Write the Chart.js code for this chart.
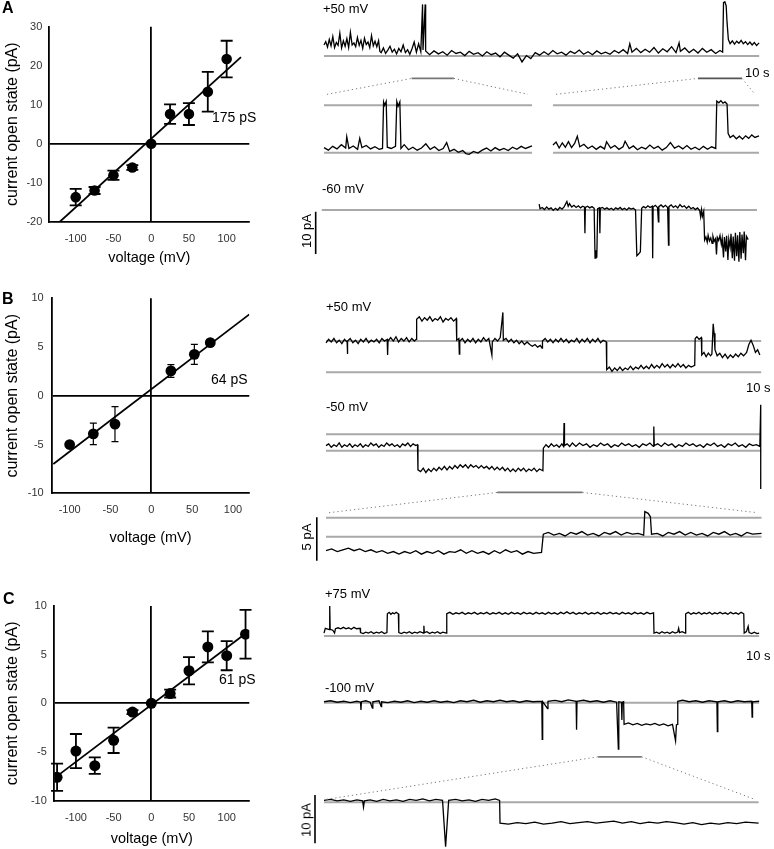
<!DOCTYPE html>
<html><head><meta charset="utf-8">
<script src="https://cdn.jsdelivr.net/npm/chart.js@4.4.1/dist/chart.umd.min.js"></script>
<style>
html,body{margin:0;padding:0;background:#fff;width:774px;height:849px;overflow:hidden;font-family:"Liberation Sans",Arial,sans-serif;}
canvas{position:absolute;}
.lbl{position:absolute;font-size:13px;line-height:13px;color:#000;white-space:nowrap;transform:translateY(-50%);}
.lbl14{position:absolute;font-size:14px;line-height:14px;color:#000;white-space:nowrap;transform:translateY(-50%);}
.rot{position:absolute;font-size:13px;line-height:13px;color:#000;white-space:nowrap;transform:translate(-50%,-50%) rotate(-90deg);}
.letter{position:absolute;font-size:16px;font-weight:bold;line-height:16px;color:#000;}
</style></head><body>
<canvas id="ivA" width="260" height="270" style="left:0;top:0"></canvas>
<canvas id="ivB" width="260" height="270" style="left:0;top:280px"></canvas>
<canvas id="ivC" width="260" height="269" style="left:0;top:580px"></canvas>
<canvas id="traces" width="774" height="849" style="left:0;top:0"></canvas>

<div class="letter" style="left:2px;top:0px">A</div>
<div class="letter" style="left:2px;top:291px">B</div>
<div class="letter" style="left:3px;top:591px">C</div>
<div class="lbl14" style="left:212px;top:117px">175 pS</div>
<div class="lbl14" style="left:211px;top:379px">64 pS</div>
<div class="lbl14" style="left:219px;top:679px">61 pS</div>

<div class="lbl" style="left:323px;top:8px">+50 mV</div>
<div class="lbl" style="left:745px;top:72px">10 s</div>
<div class="lbl" style="left:322px;top:188px">-60 mV</div>
<div class="rot" style="left:306px;top:231px">10 pA</div>
<div class="lbl" style="left:326px;top:306px">+50 mV</div>
<div class="lbl" style="left:746px;top:387px">10 s</div>
<div class="lbl" style="left:326px;top:406px">-50 mV</div>
<div class="rot" style="left:306px;top:537px">5 pA</div>
<div class="lbl" style="left:325px;top:593px">+75 mV</div>
<div class="lbl" style="left:746px;top:655px">10 s</div>
<div class="lbl" style="left:325px;top:687px">-100 mV</div>
<div class="rot" style="left:306px;top:820px">10 pA</div>

<script>
const F = "'Liberation Sans', Arial, sans-serif";

// ---------- I-V data ----------
const ivTicksX = [-100, -50, 0, 50, 100];
const ivA_voltage = [-100, -75, -50, -25, 0, 25, 50, 75, 100];
const ivA_current = [-13.7, -12.0, -8.1, -6.1, 0, 7.6, 7.6, 13.3, 21.7];
const ivA_error   = [2.1, 0.9, 1.2, 0.6, 0, 2.5, 2.8, 5.1, 4.7];
const ivA_fitV = [-121, 119];
const ivA_fitI = [-20, 22.2];
const ivA_ticksY = [-20, -10, 0, 10, 20, 30];

const ivB_voltage = [-100, -71, -44.5, 24, 52.7, 72.2];
const ivB_current = [-5.0, -3.9, -2.9, 2.55, 4.25, 5.45];
const ivB_error   = [0.15, 1.1, 1.8, 0.65, 1.03, 0.2];
const ivB_fitV = [-120, 120];
const ivB_fitI = [-7.0, 8.35];
const ivB_ticksY = [-10, -5, 0, 5, 10];

const ivC_voltage = [-125, -100, -75, -50, -25, 0, 25, 50, 75, 100, 125];
const ivC_current = [-7.6, -4.9, -6.4, -3.8, -0.9, 0, 1.0, 3.35, 5.8, 4.9, 7.1];
const ivC_error   = [1.4, 1.75, 0.85, 1.3, 0.2, 0, 0.4, 1.4, 1.6, 1.5, 2.5];
const ivC_fitV = [-125.5, 122];
const ivC_fitI = [-7.5, 7.0];
const ivC_ticksY = [-10, -5, 0, 5, 10];

// ---------- single-channel traces: [time (s), current (pA)] ----------
const trA_pos50 = [[0,2.6],[0.4,3.4],[0.8,2.1],[1.2,3.9],[1.6,2.4],[2,4.6],[2.4,2.0],[2.8,3.2],[3.2,2.5],[3.6,5.4],[4,1.9],[4.4,3.6],[4.8,2.3],[5.2,4.1],[5.6,2.0],[6,5.6],[6.4,2.6],[6.8,3.1],[7.2,2.2],[7.6,4.4],[8,2.5],[8.4,3.7],[8.8,1.8],[9.2,4.2],[9.6,2.7],[10,3.3],[10.4,2.0],[10.8,4.8],[11.2,2.4],[11.6,3.5],[12,2.2],[12.4,3.6],[12.7,1.1],
 [13,0.8],[13.5,1.9],[14,0.6],[14.5,1.4],[15,2.3],[15.5,0.9],[16,1.6],[16.5,0.5],[17,1.8],[17.5,1.0],[18,2.6],[18.5,0.8],[19,1.5],[19.5,0.4],[20,1.7],[20.5,3.3],[21,0.9],[21.5,2.9],[22,1.0],
 [22.4,12.2],[22.5,1.4],[23.0,12.2],[23.1,1.2],
 [24,0.3],[25,1.2],[26,0.5],[27,1.0],[28,0.2],[29,1.3],[30,0.6],[31,0.9],[32,0.1],[33,1.1],[34,0.4],[35,0.8],[36,0.0],[37,1.0],[38,0.3],[39,0.7],[40,-0.2],[41,0.9],[42,0.2],[43,-0.5],[44,0.5],[45,-1.4],[46,0.1],[47,-0.6],[48,0.8],[49,0.2],[50,1.0],[51,0.3],[52,1.3],[53,0.5],[54,0.9],[55,0.2],[56,1.1],[57,0.6],[58,1.4],[59,0.4],[60,1.0],[61,0.3],[62,1.2],[63,0.5],[64,0.9],[65,0.4],[66,1.3],[67,0.7],[68,1.5],[69,0.6],[69.5,2.9],[70,0.9],[71,1.8],[72,0.8],[73,1.6],[74,0.9],[75,2.0],[76,0.7],[77,1.7],[78,1.0],[79,2.2],[80,0.8],[80.7,3.1],[81,1.1],[82,1.9],[83,0.8],[84,1.6],[85,0.7],[86,1.8],[87,0.9],[88,1.5],[89,0.6],[90,1.3],[90.6,0.9],
 [90.8,12.6],[91.1,12.8],[91.4,11.9],[91.6,8.0],[91.9,3.9],[92.3,2.9],[92.8,3.6],[93.3,2.8],[93.8,3.5],[94.3,3.0],[94.8,3.7],[95.3,2.9],[95.8,3.4],[96.3,2.7],[96.8,3.3],[97.3,2.6],[97.8,3.2],[98.3,2.5],[98.9,3.1]];

const trA_zoomLeft = [[0,1.2],[0.2,0.6],[0.4,1.5],[0.6,0.9],[0.8,1.9],[1.0,1.1],[1.05,3.8],[1.15,1.0],[1.35,1.6],[1.55,0.8],[1.65,3.4],[1.75,1.2],[1.95,1.7],[2.15,0.9],[2.35,1.4],[2.55,0.8],[2.7,1.0],[2.75,12.0],[2.8,11.2],[2.87,12.1],[2.92,1.3],[3.1,1.0],[3.3,1.5],[3.36,12.1],[3.42,11.0],[3.5,12.0],[3.55,1.0],[3.7,1.9],[3.9,0.7],[4.1,1.3],[4.3,0.6],[4.5,1.1],[4.7,2.1],[4.9,0.8],[5.1,1.4],[5.3,0.5],[5.5,1.0],[5.66,2.4],[5.8,0.3],[6.0,0.8],[6.2,0.1],[6.4,0.5],[6.55,-0.2],[6.7,-0.4],[6.9,0.3],[7.1,-0.1],[7.3,0.6],[7.5,1.1],[7.7,0.4],[7.9,1.2],[8.1,0.6],[8.3,1.0],[8.5,0.5],[8.7,1.3],[8.9,0.8],[9.1,1.5],[9.3,1.0],[9.6,1.6]];

const trA_zoomRight = [[0,1.8],[0.15,2.5],[0.3,1.1],[0.45,2.3],[0.6,1.3],[0.75,2.6],[0.9,1.2],[1.05,2.2],[1.18,3.9],[1.3,1.4],[1.5,2.0],[1.7,1.0],[1.9,1.6],[2.1,0.8],[2.3,1.5],[2.5,0.9],[2.6,2.6],[2.8,1.1],[3.0,1.7],[3.2,0.8],[3.4,1.4],[3.5,2.7],[3.7,1.0],[3.9,1.6],[4.1,0.7],[4.3,1.3],[4.5,0.9],[4.7,1.8],[4.9,1.0],[5.1,1.5],[5.3,0.6],[5.5,1.2],[5.7,2.4],[5.9,1.1],[6.1,1.6],[6.3,0.9],[6.5,1.7],[6.7,0.8],[6.9,1.3],[7.1,0.7],[7.3,1.5],[7.5,0.8],[7.7,1.4],[7.9,1.0],
 [7.95,12.2],[8.05,11.8],[8.15,12.3],[8.25,11.7],[8.35,12.0],[8.45,11.5],[8.5,4.6],[8.6,3.6],[8.75,4.1],[8.9,3.3],[9.05,3.9],[9.2,3.2],[9.35,4.0],[9.5,3.4],[9.65,4.2],[9.8,3.6],[10,4.0]];

const trA_neg60 = [[48.9,1.4],[49.1,0.3],[49.6,0.6],[50.1,0.1],[50.6,0.7],[51.1,0.2],[51.6,0.5],[52.1,-0.1],[52.6,0.4],[53.1,0.0],[53.6,0.6],[54.1,0.2],[54.6,0.8],[55.2,2.0],[55.5,0.9],[55.8,1.5],[56.3,0.7],[56.8,1.1],[57.3,0.6],[57.8,1.0],[58.3,0.5],[58.8,0.9],[59.2,0.7],[59.3,-5.5],[59.4,0.6],[59.9,0.9],[60.4,0.5],[60.9,0.8],[61.4,0.4],[61.6,-11.4],[61.8,-9.5],[62.0,-11.3],[62.2,0.3],[62.6,0.5],[62.7,-5.5],[62.8,0.4],[63.3,0.6],[63.8,0.2],[64.3,0.5],[64.8,0.1],[65.3,0.4],[65.8,0.0],[66.3,0.5],[66.8,0.2],[67.3,0.6],[67.8,0.1],[68.3,0.4],[68.8,0.0],[69.3,0.5],[69.8,0.2],[70.3,0.4],[70.8,0.0],[71.1,-10.8],[71.5,-10.4],[71.9,-9.9],[72.2,0.4],[72.6,0.8],[73.1,0.5],[73.6,1.0],[74.1,0.6],[74.6,0.9],[74.7,-11.4],[74.8,0.7],[75.3,1.1],[75.8,0.6],[76.0,-2.8],[76.1,0.8],[76.6,1.2],[77.1,0.7],[77.6,1.1],[78.1,0.6],[78.3,-8.3],[78.4,0.8],[78.9,1.2],[79.4,0.6],[79.9,1.0],[80.4,0.5],[80.9,1.3],[81.4,0.7],[81.9,1.0],[82.4,0.4],[82.9,0.9],[83.4,0.3],[83.9,0.6],[84.4,0.1],[84.9,0.5],[85.4,-0.2],[85.6,-1.6],[85.8,0.1],[86.0,-1.5],[86.3,-0.3],
 [86.5,-7.1],[86.8,-6.4],[87.1,-7.6],[87.3,-6.0],[87.6,-7.3],[87.9,-6.6],[88.2,-7.9],[88.4,-6.2],[88.7,-7.4],[89.0,-6.8],[89.2,-10.5],[89.4,-6.5],[89.7,-7.2],[90.0,-6.0],[90.3,-8.1],[90.5,-6.7],[90.8,-11.2],[91.0,-6.4],[91.3,-9.8],[91.5,-6.1],[91.8,-11.8],[92.0,-6.9],[92.3,-8.8],[92.5,-5.6],[92.8,-11.4],[93.0,-6.3],[93.3,-12.0],[93.5,-5.4],[93.8,-10.9],[94.0,-6.0],[94.3,-12.2],[94.5,-5.2],[94.8,-11.5],[95.0,-5.8],[95.3,-10.2],[95.5,-5.1],[95.8,-11.9],[96.0,-6.2],[96.4,-7.0]];

const trB_pos50 = [[0,3.4],[0.6,3.8],[1.2,3.5],[1.8,3.9],[2.4,3.4],[3.0,3.7],[3.6,3.3],[4.2,3.8],[4.8,3.5],[4.85,2.1],[4.95,3.6],[5.5,3.9],[6.1,3.4],[6.7,3.7],[7.3,3.3],[7.9,3.8],[8.5,3.5],[9.1,3.9],[9.7,3.4],[10.3,3.7],[10.9,3.5],[11.5,3.8],[12.1,3.4],[12.7,3.9],[13.3,3.6],[13.9,3.8],[14.0,2.0],[14.1,3.6],[14.7,4.0],[15.3,3.6],[15.9,4.1],[16.5,3.5],[17.1,3.9],[17.7,3.6],[18.3,4.0],[18.9,3.5],[19.5,3.9],[20.1,3.6],[20.5,3.8],
 [20.6,6.1],[21.2,6.4],[21.8,5.9],[22.4,6.3],[23.0,6.0],[23.6,6.4],[24.2,5.9],[24.8,6.2],[25.4,6.0],[26.0,6.4],[26.6,5.8],[27.2,6.2],[27.8,6.0],[28.4,6.3],[29.0,5.9],[29.6,6.2],
 [29.7,3.7],[30.2,3.9],[30.3,2.1],[30.4,3.6],[31.0,3.9],[31.6,3.4],[32.2,3.8],[32.8,3.5],[33.4,3.9],[34.0,3.4],[34.6,3.8],[35.2,3.5],[35.8,4.0],[36.4,3.6],[37.0,3.9],[37.7,2.0],[37.8,3.5],[38.4,3.9],[39.0,3.6],[39.6,4.0],[40.2,6.9],[40.3,3.7],[40.9,3.9],[41.5,3.5],[42.1,3.8],[42.7,3.4],[43.3,3.7],[43.9,3.3],[44.5,3.6],[45.1,3.2],[45.7,3.5],[46.3,3.2],[46.9,3.0],[47.5,3.2],[48.1,2.9],[48.7,3.1],[49.1,2.8],[49.2,3.6],[49.8,3.9],[50.4,3.5],[51.0,3.8],[51.6,3.4],[52.2,3.8],[52.8,3.5],[53.4,3.9],[54.0,3.5],[54.6,3.8],[55.2,3.4],[55.8,3.7],[56.4,3.5],[57.0,3.9],[57.6,3.4],[58.2,3.8],[58.8,3.5],[59.4,3.9],[60.0,3.4],[60.6,3.8],[61.2,3.5],[61.8,3.9],[62.4,3.4],[63.0,3.7],[63.7,3.5],
 [63.8,0.3],[64.4,0.6],[65.0,0.1],[65.6,0.5],[66.2,0.2],[66.8,0.6],[67.4,0.2],[68.0,0.5],[68.6,0.3],[69.2,0.7],[69.8,0.3],[70.4,0.6],[71.0,0.4],[71.6,0.8],[72.2,0.4],[72.8,0.7],[73.4,0.4],[74.0,0.9],[74.6,0.5],[75.2,0.8],[75.8,0.5],[76.4,1.0],[77.0,0.6],[77.6,0.9],[78.2,0.5],[78.8,0.9],[79.4,0.6],[80.0,1.0],[80.6,0.6],[81.2,0.9],[81.8,0.5],[82.4,0.8],[83.0,0.6],[83.8,0.8],
 [83.9,3.9],[84.3,4.1],[84.8,3.8],[85.3,4.0],[85.4,2.0],[85.9,2.3],[86.4,1.8],[86.9,2.2],[87.4,1.9],[87.7,2.1],[88.0,5.6],[88.2,4.5],[88.4,2.6],[88.9,1.9],[89.5,2.2],[90.1,1.7],[90.7,2.1],[91.3,1.6],[91.9,2.0],[92.5,1.7],[93.1,2.1],[93.7,1.8],[94.3,2.2],[94.9,1.9],[95.6,2.3],[96.1,3.2],[96.6,3.7],[97.1,3.1],[97.6,2.3],[98.1,2.6],[98.6,2.0]];

const trB_neg50 = [[0,-1.3],[0.6,-1.1],[1.2,-1.5],[1.8,-1.2],[2.4,-1.4],[3.0,-1.0],[3.6,-1.5],[4.2,-1.2],[4.8,-1.4],[5.4,-1.1],[6.0,-1.5],[6.6,-1.2],[7.2,-1.4],[7.8,-1.1],[8.4,-1.5],[9.0,-1.2],[9.6,-1.4],[10.2,-1.0],[10.8,-1.3],[11.4,-1.1],[12.0,-1.5],[12.6,-1.2],[13.2,-1.4],[13.8,-1.0],[14.4,-1.3],[15.0,-1.1],[15.6,-1.4],[16.2,-1.2],[16.8,-1.5],[17.4,-1.1],[18.0,-1.3],[18.6,-1.0],[19.2,-1.4],[19.8,-1.1],[20.4,-1.3],[20.8,-1.2],
 [20.9,-4.1],[21.5,-4.3],[22.1,-3.9],[22.7,-4.4],[23.3,-4.0],[23.9,-4.3],[24.5,-3.9],[25.1,-4.2],[25.7,-3.8],[26.3,-4.1],[26.9,-3.7],[27.5,-4.1],[28.1,-3.7],[28.7,-4.0],[29.3,-3.6],[29.9,-3.9],[30.5,-3.5],[31.1,-3.8],[31.7,-3.5],[32.3,-3.9],[32.9,-3.5],[33.5,-3.8],[34.1,-3.6],[34.7,-3.9],[35.3,-3.6],[35.9,-3.9],[36.5,-3.7],[37.1,-4.0],[37.7,-3.7],[38.3,-4.1],[38.9,-3.8],[39.5,-4.1],[40.1,-3.8],[40.7,-4.2],[41.3,-3.9],[41.9,-4.3],[42.5,-4.0],[43.1,-4.3],[43.7,-3.9],[44.3,-4.2],[44.9,-3.9],[45.5,-4.3],[46.1,-4.0],[46.7,-4.2],[47.3,-3.9],[47.9,-4.3],[48.5,-4.0],[49.3,-4.2],
 [49.4,-1.6],[50.0,-1.2],[50.6,-1.5],[51.2,-1.1],[51.8,-1.4],[52.4,-1.2],[53.0,-1.5],[53.6,-1.1],[54.0,-1.4],[54.1,1.3],[54.2,-1.3],[54.8,-1.1],[55.4,-1.4],[56.0,-1.0],[56.8,-1.4],[57.6,-1.0],[58.4,-1.3],[59.2,-1.1],[60.0,-1.5],[60.8,-1.2],[61.6,-1.4],[62.4,-1.0],[63.2,-1.3],[64.0,-1.1],[64.8,-1.5],[65.6,-1.2],[66.4,-1.4],[67.2,-1.0],[68.0,-1.3],[68.8,-1.1],[69.6,-1.4],[70.4,-1.2],[71.2,-1.5],[72.0,-1.1],[72.8,-1.3],[73.6,-1.0],[74.4,-1.4],[74.5,0.9],[74.6,-1.3],[75.4,-1.1],[76.2,-1.4],[77.0,-1.0],[77.8,-1.3],[78.6,-1.1],[79.4,-1.5],[80.2,-1.2],[81.0,-1.4],[81.8,-1.0],[82.6,-1.3],[83.4,-1.1],[84.2,-1.4],[85.0,-1.2],[85.8,-1.5],[86.6,-1.1],[87.4,-1.3],[88.2,-1.0],[89.0,-1.4],[89.8,-1.2],[90.6,-1.5],[91.4,-1.1],[92.2,-1.3],[93.0,-1.0],[93.8,-1.4],[94.6,-1.2],[95.4,-1.5],[96.2,-1.1],[97.0,-1.3],[97.8,-1.2],[98.6,-1.4],[98.8,3.4],[98.8,-6.3]];

const trB_zoom = [[0,-3.8],[0.25,-3.6],[0.5,-3.9],[0.75,-3.7],[1.0,-3.5],[1.25,-3.8],[1.5,-3.6],[1.75,-3.9],[2.0,-3.7],[2.25,-4.0],[2.5,-3.8],[2.75,-4.1],[3.0,-3.9],[3.25,-4.2],[3.5,-3.9],[3.75,-4.1],[4.0,-3.8],[4.25,-4.2],[4.5,-3.9],[4.75,-4.1],[5.0,-3.8],[5.25,-4.2],[5.5,-3.9],[5.75,-4.0],[6.0,-3.7],[6.25,-4.1],[6.5,-3.8],[6.75,-4.1],[7.0,-3.9],[7.25,-4.2],[7.5,-3.8],[7.75,-4.1],[8.0,-3.7],[8.25,-4.0],[8.5,-3.8],[8.75,-4.2],[9.0,-3.9],[9.25,-4.1],[9.6,-4.0],
 [9.68,-1.9],[9.9,-1.7],[10.15,-2.0],[10.4,-1.8],[10.65,-2.1],[10.9,-1.7],[11.15,-1.9],[11.4,-1.6],[11.65,-2.0],[11.9,-1.8],[12.15,-2.1],[12.4,-1.7],[12.65,-1.9],[12.9,-1.6],[13.15,-2.0],[13.4,-1.7],[13.65,-1.9],[13.9,-1.8],[14.15,-2.0],[14.2,0.7],[14.35,0.5],[14.45,0.1],[14.5,-1.9],[14.75,-1.8],[15.0,-2.1],[15.25,-1.7],[15.5,-1.9],[15.75,-1.6],[16.0,-2.0],[16.25,-1.7],[16.5,-2.0],[16.75,-1.8],[17.0,-2.1],[17.25,-1.7],[17.5,-1.9],[17.75,-1.6],[18.0,-2.0],[18.25,-1.8],[18.5,-2.1],[18.75,-1.7],[19.0,-1.9],[19.4,-1.8]];

const trC_pos75 = [[0,0.6],[0.3,1.6],[1.2,1.3],[1.3,6.2],[1.4,1.4],[2.0,1.2],[2.4,0.6],[2.6,1.5],[3.2,1.7],[3.8,1.5],[4.4,1.8],[5.0,1.5],[5.6,1.7],[6.2,1.4],[6.8,1.8],[7.4,1.5],[8.2,1.6],
 [8.3,0.7],[8.9,0.5],[9.5,0.8],[10.1,0.6],[10.7,0.9],[11.3,0.5],[11.9,0.8],[12.5,0.6],[13.1,0.9],[13.7,0.5],[14.3,0.7],
 [14.4,4.6],[14.8,4.9],[15.2,4.5],[15.6,4.8],[16.0,4.6],[16.4,4.9],[16.9,4.6],
 [17.0,0.7],[17.6,0.5],[18.2,0.8],[18.8,0.6],[19.4,0.9],[20.0,0.5],[20.6,0.8],[21.2,0.6],[21.8,0.9],[22.6,0.6],[22.7,2.1],[22.8,0.7],[23.4,0.9],[24.0,0.5],[24.6,0.8],[25.2,0.6],[25.8,0.9],[26.4,0.5],[27.0,0.8],[27.8,0.6],
 [27.9,4.6],[28.6,4.9],[29.3,4.5],[30.0,4.8],[30.7,4.6],[31.4,4.9],[32.1,4.5],[32.8,4.8],[33.5,4.6],[34.2,4.9],[34.9,4.5],[35.6,4.8],[36.3,4.6],[37.0,4.9],[37.7,4.5],[38.4,4.8],[39.1,4.6],[39.8,4.9],[40.5,4.5],[41.2,4.8],[41.9,4.5],[42.6,4.9],[43.3,4.6],[44.0,4.8],[44.7,4.5],[45.4,4.9],[46.1,4.6],[46.8,4.8],[47.5,4.5],[48.2,4.9],[48.9,4.6],[49.6,4.8],[50.3,4.5],[51.0,4.9],[51.7,4.6],[52.4,4.8],[53.1,4.5],[53.8,4.9],[54.5,4.6],[55.2,5.0],[55.9,4.6],[56.6,4.9],[57.3,4.5],[58.0,4.8],[58.7,4.6],[59.4,4.9],[60.1,4.5],[60.8,4.8],[61.5,4.6],[62.2,4.9],[62.9,4.5],[63.6,4.8],[64.3,4.6],[65.0,4.9],[65.7,4.6],[66.4,4.8],[67.1,4.5],[67.8,4.9],[68.5,4.6],[69.2,4.8],[69.9,4.5],[70.6,4.9],[71.3,4.6],[72.0,4.8],[72.7,4.5],[73.4,4.9],[74.1,4.6],[74.9,4.8],
 [75.0,0.6],[75.6,0.8],[76.2,0.5],[76.8,0.9],[77.4,0.6],[78.0,0.8],[78.6,0.5],[79.2,0.9],[79.8,0.6],[80.4,0.8],[80.6,1.6],[80.8,0.7],[81.4,0.9],[82.1,0.6],
 [82.2,4.6],[82.8,4.9],[83.4,4.5],[84.0,4.8],[84.6,4.6],[85.2,4.9],[85.8,4.5],[86.4,4.8],[87.0,4.6],[87.6,4.9],[88.2,4.5],[88.8,4.8],[89.4,4.6],[90.0,4.9],[90.6,4.6],[91.2,4.8],[91.8,4.5],[92.4,4.9],[93.0,4.6],[93.6,4.8],[94.2,4.5],[94.8,4.9],[95.4,4.6],
 [95.5,0.6],[96.0,0.9],[96.4,2.0],[96.6,0.7],[97.2,0.5],[97.8,0.8],[98.4,0.5],[98.9,0.6]];

const trC_neg100 = [[0,0.2],[1.5,0.4],[3,0.1],[4.5,0.3],[6,0.0],[7.5,0.3],[8.3,0.1],[8.4,-1.5],[8.5,0.2],[9.5,0.4],[10.5,0.1],[11,-1.1],[11.1,0.2],[12.5,0.4],[13,-0.8],[13.1,0.2],[14.5,0.0],[16,0.3],[17.5,0.1],[19,0.4],[20.5,0.0],[22,0.3],[23.5,0.1],[25,0.4],[26.5,0.1],[28,0.3],[29.5,0.0],[31,0.4],[32.5,0.2],[34,0.5],[35.5,0.1],[37,0.4],[38.5,0.2],[40,0.5],[41.5,0.2],[43,0.4],[44.5,0.1],[46,0.4],[47.5,0.2],[49.5,0.3],[49.6,-7.6],[49.7,0.2],[50.8,-1.2],[50.9,0.3],[52.5,0.5],[54,0.2],[55.5,0.6],[57.3,0.3],[57.4,-5.6],[57.5,0.3],[59,0.5],[60.5,0.2],[62,0.4],[63.5,0.1],[65,0.4],[66.5,0.1],[66.9,-9.6],[67.0,0.2],[67.6,0.1],[67.7,-3.6],[67.8,0.1],[68.1,0.2],
 [68.2,-4.5],[69.2,-4.2],[70.2,-4.6],[71.2,-4.3],[72.2,-4.7],[73.2,-4.4],[74.2,-4.6],[75.2,-4.3],[76.2,-4.7],[77.2,-4.4],[78.2,-4.8],[79.2,-4.5],[79.9,-7.9],[80.1,-4.6],[80.3,-4.5],
 [80.4,0.3],[81.5,0.5],[83,0.2],[84.5,0.4],[86,0.1],[87.5,0.4],[89.3,0.2],[89.4,-6.0],[89.5,0.2],[91,0.4],[92.5,0.1],[94,0.4],[95.5,0.2],[97.2,0.3],[97.3,-3.0],[97.4,0.2],[98.9,0.3]];

const trC_zoom = [[0,0.4],[0.15,0.6],[0.3,0.3],[0.45,0.5],[0.6,0.2],[0.75,0.5],[0.88,0.3],[0.9,-1.0],[0.92,0.3],[1.05,0.5],[1.2,0.2],[1.35,0.6],[1.5,0.3],[1.65,0.5],[1.8,0.2],[1.95,0.6],[2.1,0.4],[2.25,0.7],[2.4,0.3],[2.55,0.6],[2.7,0.4],[2.77,-9.2],[2.84,0.4],[3.0,0.6],[3.15,0.3],[3.3,0.5],[3.45,0.2],[3.6,0.6],[3.75,0.4],[3.9,0.7],[4.0,0.4],
 [4.01,-4.3],[4.2,-4.5],[4.4,-4.2],[4.6,-4.4],[4.8,-4.1],[5.0,-4.5],[5.2,-4.3],[5.4,-4.0],[5.6,-4.4],[5.8,-4.2],[6.0,-4.0],[6.2,-4.3],[6.4,-4.1],[6.6,-3.9],[6.8,-4.3],[7.0,-4.0],[7.2,-4.4],[7.4,-4.1],[7.6,-4.3],[7.8,-4.0],[8.0,-4.2],[8.2,-4.5],[8.4,-4.2],[8.6,-4.6],[8.8,-4.3],[9.0,-4.5],[9.2,-4.2],[9.4,-4.4],[9.6,-4.1],[9.9,-4.3]];

// reference (closed / open) current levels drawn in grey, per trace
const levels = {
  A1: [0], EAL: [0, 11.2], EAR: [0, 11.2], A2: [0],
  B1: [0, 3.6], B2: [0, -1.89], EB: [0, -2.19],
  C1: [0], C2: [0], EC: [0]
};
// time span of each trace's grey reference lines (s)
const spans = {
  A1: [0, 98.9], EAL: [0, 9.6], EAR: [0, 10], A2: [-0.5, 98.4],
  B1: [0, 98.9], B2: [0, 98.9], EB: [0, 19.4],
  C1: [0, 98.9], C2: [0, 98.9], EC: [0, 9.9]
};
// expanded-window relations: parent window (s) -> child trace
const zoomLinks = [
  {p: 'A1', t: [19.9, 29.5], lev: -5.3, c: 'EAL', off: 11, color: '#777'},
  {p: 'A1', t: [85, 95],     lev: -5.3, c: 'EAR', off: 11, color: '#555'},
  {p: 'B2', t: [38.9, 58.3], lev: -6.7, c: 'EB',  off: 5,  color: '#777'},
  {p: 'C2', t: [62.3, 72.2], lev: -11.2, c: 'EC', off: 3,  color: '#777'}
];
// current scale bars (pA)
const scaleBars = [
  {tr: 'A2', t: -1.89, from: -0.4, size: 10},
  {tr: 'EB', t: -0.41, from: 0.05, size: 5},
  {tr: 'EC', t: -0.205, from: 1.51, size: 10}
];

// ---------- layout of the trace panel (page pixels) ----------
const layoutTr = {
  A1:  {x0: 324, sx: 4.4,   y0: 56,    sy: 4.23},
  EAL: {x0: 324, sx: 21.67, y0: 152.7, sy: 4.23},
  EAR: {x0: 553, sx: 20.6,  y0: 152.7, sy: 4.23},
  A2:  {x0: 324, sx: 4.4,   y0: 210,   sy: 4.23},
  B1:  {x0: 326, sx: 4.4,   y0: 372.3, sy: 8.68},
  B2:  {x0: 326, sx: 4.4,   y0: 434.3, sy: 8.68},
  EB:  {x0: 326, sx: 22.45, y0: 517.7, sy: 8.68},
  C1:  {x0: 324, sx: 4.4,   y0: 636,   sy: 4.83},
  C2:  {x0: 324, sx: 4.4,   y0: 702.7, sy: 4.83},
  EC:  {x0: 324, sx: 43.9,  y0: 802.3, sy: 4.83}
};
const traceData = {
  A1: trA_pos50, EAL: trA_zoomLeft, EAR: trA_zoomRight, A2: trA_neg60,
  B1: trB_pos50, B2: trB_neg50, EB: trB_zoom,
  C1: trC_pos75, C2: trC_neg100, EC: trC_zoom
};

// ---------- I-V charts ----------
const errorBars = {
  id: 'errorBars',
  beforeDatasetsDraw(chart, args, opts) {
    const ctx = chart.ctx, xs = chart.scales.x, ys = chart.scales.y;
    chart.data.datasets.forEach(ds => {
      if (!ds.errors) return;
      ds.data.forEach((p, i) => {
        const e = ds.errors[i];
        if (!e) return;
        const px = xs.getPixelForValue(p.x);
        const yt = ys.getPixelForValue(p.y + e), yb = ys.getPixelForValue(p.y - e);
        ctx.save();
        ctx.strokeStyle = '#000';
        ctx.lineWidth = opts.lw;
        ctx.beginPath();
        ctx.moveTo(px, yt); ctx.lineTo(px, yb);
        ctx.moveTo(px - opts.cap, yt); ctx.lineTo(px + opts.cap, yt);
        ctx.moveTo(px - opts.cap, yb); ctx.lineTo(px + opts.cap, yb);
        ctx.stroke();
        ctx.restore();
      });
    });
  }
};

function ivChart(id, c) {
  const zeroColor = k => (k.tick && k.tick.value === 0) ? '#000' : 'rgba(0,0,0,0)';
  new Chart(document.getElementById(id), {
    type: 'scatter',
    data: {datasets: [
      {data: c.v.map((v, i) => ({x: v, y: c.i[i]})), errors: c.e, pointRadius: c.r, pointHoverRadius: c.r,
       pointBackgroundColor: '#000', pointBorderWidth: 0, showLine: false, order: 1},
      {data: c.fv.map((v, i) => ({x: v, y: c.fi[i]})), showLine: true, borderColor: '#000', borderWidth: 1.8,
       pointRadius: 0, order: 2}
    ]},
    options: {
      responsive: false, animation: false, devicePixelRatio: 1,
      layout: {padding: {top: c.top, right: c.right, left: 0, bottom: 0}},
      plugins: {legend: {display: false}, tooltip: {enabled: false}, errorBars: {cap: c.cap, lw: c.elw}},
      scales: {
        x: {type: 'linear', min: c.xmin, max: c.xmax,
            afterBuildTicks: s => { s.ticks = ivTicksX.map(v => ({value: v})); },
            afterFit: s => { s.height = c.xh; },
            grid: {drawTicks: false, color: zeroColor, lineWidth: 1.8},
            border: {display: true, color: '#000', width: 1.8},
            ticks: {padding: c.xpad, color: '#333', font: {size: 11, family: F}},
            title: {display: true, text: 'voltage (mV)', color: '#000', font: {size: 14.5, family: F}, padding: {top: 0, bottom: c.tpad}}},
        y: {type: 'linear', min: c.ymin, max: c.ymax,
            afterBuildTicks: s => { s.ticks = c.yt.map(v => ({value: v})); },
            afterFit: s => { s.width = c.yw; },
            grid: {drawTicks: false, color: zeroColor, lineWidth: 1.8},
            border: {display: true, color: '#000', width: 1.8},
            ticks: {padding: c.ypad, color: '#333', font: {size: 11, family: F}},
            title: {display: true, text: 'current open state (pA)', color: '#000', font: {size: 16, family: F}, padding: {top: 3, bottom: 0}}}
      }
    },
    plugins: [errorBars]
  });
}

ivChart('ivA', {v: ivA_voltage, i: ivA_current, e: ivA_error, fv: ivA_fitV, fi: ivA_fitI, yt: ivA_ticksY,
  xmin: -135, xmax: 130, ymin: -20, ymax: 30, top: 26.7, right: 10.7, xh: 48.3, yw: 49.3,
  xpad: 11, ypad: 7, tpad: 3, r: 5.3, cap: 6, elw: 1.8});
ivChart('ivB', {v: ivB_voltage, i: ivB_current, e: ivB_error, fv: ivB_fitV, fi: ivB_fitI, yt: ivB_ticksY,
  xmin: -122, xmax: 120, ymin: -10, ymax: 10, top: 18.3, right: 10.7, xh: 56.7, yw: 51.7,
  xpad: 10, ypad: 8, tpad: 3, r: 5.4, cap: 3.5, elw: 1.2});
ivChart('ivC', {v: ivC_voltage, i: ivC_current, e: ivC_error, fv: ivC_fitV, fi: ivC_fitI, yt: ivC_ticksY,
  xmin: -128.7, xmax: 130, ymin: -10, ymax: 10, top: 26, right: 10.7, xh: 48.3, yw: 54.3,
  xpad: 11, ypad: 7.5, tpad: 1.5, r: 5.5, cap: 6, elw: 1.8});

// ---------- trace panel ----------
const W = 774, H = 849;
const scales = {};
Object.keys(layoutTr).forEach(k => {
  const L = layoutTr[k];
  scales['x' + k] = {type: 'linear', display: false, min: -L.x0 / L.sx, max: (W - L.x0) / L.sx};
  scales['y' + k] = {type: 'linear', display: false, min: -(H - L.y0) / L.sy, max: L.y0 / L.sy};
});

const datasets = [];
Object.keys(traceData).forEach(k => {
  datasets.push({data: traceData[k].map(p => ({x: p[0], y: p[1]})), xAxisID: 'x' + k, yAxisID: 'y' + k,
    borderColor: '#000', borderWidth: 1.3, pointRadius: 0, tension: 0, fill: false, order: 1});
  levels[k].forEach(lv => {
    datasets.push({data: [{x: spans[k][0], y: lv}, {x: spans[k][1], y: lv}], xAxisID: 'x' + k, yAxisID: 'y' + k,
      borderColor: '#a9a9a9', borderWidth: 2, pointRadius: 0, order: 5});
  });
});
zoomLinks.forEach(z => {
  datasets.push({data: [{x: z.t[0], y: z.lev}, {x: z.t[1], y: z.lev}], xAxisID: 'x' + z.p, yAxisID: 'y' + z.p,
    borderColor: z.color, borderWidth: 1.8, pointRadius: 0, order: 2});
});
scaleBars.forEach(b => {
  datasets.push({data: [{x: b.t, y: b.from}, {x: b.t, y: b.from - b.size}], xAxisID: 'x' + b.tr, yAxisID: 'y' + b.tr,
    borderColor: '#000', borderWidth: 1.6, pointRadius: 0, order: 2});
});

const connectors = {
  id: 'connectors',
  afterDatasetsDraw(chart) {
    const ctx = chart.ctx;
    ctx.save();
    ctx.strokeStyle = '#777';
    ctx.lineWidth = 1;
    ctx.setLineDash([1.2, 3]);
    zoomLinks.forEach(z => {
      const px = chart.scales['x' + z.p], py = chart.scales['y' + z.p];
      const cx = chart.scales['x' + z.c], cy = chart.scales['y' + z.c];
      const topLev = Math.max.apply(null, levels[z.c]);
      const yb = py.getPixelForValue(z.lev);
      const yc = cy.getPixelForValue(topLev) - z.off;
      const cL = cx.getPixelForValue(spans[z.c][0]) + 3;
      const cR = cx.getPixelForValue(spans[z.c][1]) - 4;
      ctx.beginPath();
      ctx.moveTo(cL, yc); ctx.lineTo(px.getPixelForValue(z.t[0]), yb);
      ctx.moveTo(px.getPixelForValue(z.t[1]), yb); ctx.lineTo(cR, yc);
      ctx.stroke();
    });
    ctx.restore();
  }
};

new Chart(document.getElementById('traces'), {
  type: 'line',
  data: {datasets: datasets},
  options: {
    responsive: false, animation: false, devicePixelRatio: 1,
    layout: {padding: 0},
    plugins: {legend: {display: false}, tooltip: {enabled: false}},
    scales: scales,
    events: []
  },
  plugins: [connectors]
});
</script>
</body></html>
